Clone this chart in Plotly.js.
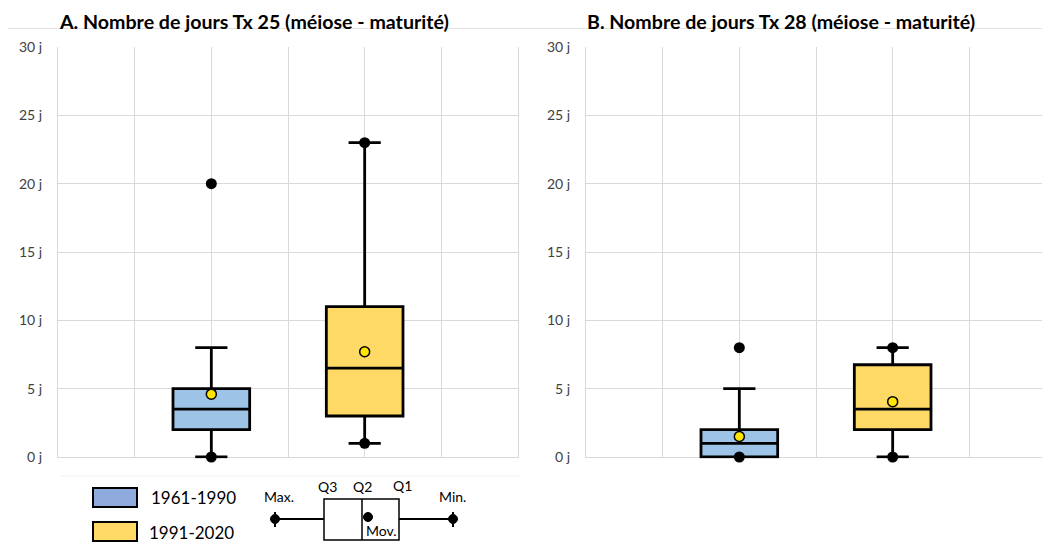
<!DOCTYPE html>
<html><head><meta charset="utf-8">
<script src="https://cdn.plot.ly/plotly-3.0.1.min.js"></script>
<style>html,body{margin:0;padding:0;background:#fff}#c{width:1042px;height:542px}</style>
</head><body><div id="c"></div>
<script>
// ---- data ----
const periods = ['1961-1990', '1991-2020'];
const fills = ['#9DC3E6', '#FFD966'];
const legendFills = ['#8FAADC', '#FFD966'];
const slots = [2, 4];
const titleA = 'A. Nombre de jours Tx 25 (méiose - maturité)';
const titleB = 'B. Nombre de jours Tx 28 (méiose - maturité)';
const yTicks = [0, 5, 10, 15, 20, 25, 30];
const yTickText = ['0 j', '5 j', '10 j', '15 j', '20 j', '25 j', '30 j'];

// Panel A (Tx 25)
const aQ1 = [2, 3];
const aMedian = [3.5, 6.5];
const aQ3 = [5, 11];
const aLowWhisker = [0, 1];
const aHighWhisker = [8, 23];
const aMean = [4.6, 7.7];
const aMax = [20, 23];
const aMin = [0, 1];

// Panel B (Tx 28)
const bQ1 = [0, 2];
const bMedian = [1, 3.5];
const bQ3 = [2, 6.75];
const bLowWhisker = [0, 0];
const bHighWhisker = [5, 8];
const bMean = [1.5, 4.05];
const bMax = [8, 8];
const bMin = [0, 0];

// ---- build ----
const W = 1042, H = 542;
const px = x => x / W, py = y => 1 - y / H;
const FONT = 'Lato, "Open Sans", sans-serif';

function panel(xa, ya, q1, med, q3, lo, hi, mean, mx, mn) {
  const tr = [];
  periods.forEach((p, i) => {
    tr.push({
      type: 'box', name: p, x: [slots[i]], q1: [q1[i]], median: [med[i]], q3: [q3[i]],
      lowerfence: [lo[i]], upperfence: [hi[i]], width: 1, whiskerwidth: 0.42,
      fillcolor: fills[i], line: {color: '#000', width: 2.8}, boxpoints: false,
      xaxis: xa, yaxis: ya, showlegend: false, hoverinfo: 'skip'
    });
  });
  tr.push({
    type: 'scatter', mode: 'markers', x: slots, y: mx, xaxis: xa, yaxis: ya,
    marker: {color: '#000', size: 11}, cliponaxis: false, showlegend: false, hoverinfo: 'skip'
  });
  tr.push({
    type: 'scatter', mode: 'markers', x: slots, y: mn, xaxis: xa, yaxis: ya,
    marker: {color: '#000', size: 11}, cliponaxis: false, showlegend: false, hoverinfo: 'skip'
  });
  tr.push({
    type: 'scatter', mode: 'markers', x: slots, y: mean, xaxis: xa, yaxis: ya,
    marker: {color: '#FFE600', size: 10, line: {color: '#000', width: 1.5}},
    cliponaxis: false, showlegend: false, hoverinfo: 'skip'
  });
  return tr;
}

const data = [].concat(
  panel('x', 'y', aQ1, aMedian, aQ3, aLowWhisker, aHighWhisker, aMean, aMax, aMin),
  panel('x2', 'y2', bQ1, bMedian, bQ3, bLowWhisker, bHighWhisker, bMean, bMax, bMin)
);

const ydom = [(H - 458.37) / H, (H - 47) / H];
const xCommon = {showticklabels: false, showgrid: true, gridcolor: '#D9D9D9', gridwidth: 1,
  zeroline: false, dtick: 1, tick0: 0, ticks: '', fixedrange: true};
const yCommon = {range: [-0.1, 30], domain: ydom, tickmode: 'array', tickvals: yTicks, ticktext: yTickText,
  showgrid: true, gridcolor: '#D9D9D9', gridwidth: 1, zeroline: false, ticks: '',
  showline: true, mirror: true, linecolor: '#D9D9D9', linewidth: 1,
  ticklabelstandoff: 12, tickfont: {family: FONT, size: 14, color: '#404040'}, fixedrange: true};

const shapes = [
  {type: 'line', xref: 'paper', yref: 'paper', x0: px(8), x1: 1, y0: py(28.5), y1: py(28.5), line: {color: '#E3E3E3', width: 1}, layer: 'below'},
  {type: 'line', xref: 'paper', yref: 'paper', x0: px(60), x1: px(520), y0: py(476), y1: py(476), line: {color: '#F0F0F0', width: 1}, layer: 'below'},
  // legend swatches
  {type: 'rect', xref: 'paper', yref: 'paper', x0: px(93), x1: px(137), y0: py(507), y1: py(488), fillcolor: legendFills[0], line: {color: '#000', width: 2}},
  {type: 'rect', xref: 'paper', yref: 'paper', x0: px(93), x1: px(137), y0: py(541), y1: py(522), fillcolor: legendFills[1], line: {color: '#000', width: 2}},
  // schematic
  {type: 'line', xref: 'paper', yref: 'paper', x0: px(275), x1: px(453), y0: py(519), y1: py(519), line: {color: '#000', width: 2}},
  {type: 'line', xref: 'paper', yref: 'paper', x0: px(275), x1: px(275), y0: py(512), y1: py(527), line: {color: '#000', width: 2}},
  {type: 'line', xref: 'paper', yref: 'paper', x0: px(453), x1: px(453), y0: py(512), y1: py(527), line: {color: '#000', width: 2}},
  {type: 'circle', xref: 'paper', yref: 'paper', x0: px(270.5), x1: px(279.5), y0: py(523.5), y1: py(514.5), fillcolor: '#000', line: {color: '#000', width: 1}},
  {type: 'circle', xref: 'paper', yref: 'paper', x0: px(448.5), x1: px(457.5), y0: py(523.5), y1: py(514.5), fillcolor: '#000', line: {color: '#000', width: 1}},
  {type: 'rect', xref: 'paper', yref: 'paper', x0: px(324), x1: px(399), y0: py(540), y1: py(499), fillcolor: '#fff', line: {color: '#000', width: 1.5}},
  {type: 'line', xref: 'paper', yref: 'paper', x0: px(362), x1: px(362), y0: py(540), y1: py(499), line: {color: '#000', width: 1.5}},
  {type: 'circle', xref: 'paper', yref: 'paper', x0: px(363.5), x1: px(372.5), y0: py(521.5), y1: py(512.5), fillcolor: '#000', line: {color: '#000', width: 1}}
];

function ann(text, x, y, size, opts) {
  return Object.assign({text: text, xref: 'paper', yref: 'paper', x: px(x), y: py(y), showarrow: false,
    xanchor: 'center', yanchor: 'middle', font: {family: FONT, size: size, color: '#000'}}, opts || {});
}

const annotations = [
  ann('<b>' + titleA + '</b>', 57, 21, 19.6, {xanchor: 'left'}),
  ann('<b>' + titleB + '</b>', 585, 21, 19.6, {xanchor: 'left'}),
  ann(periods[0], 149, 497, 17, {xanchor: 'left'}),
  ann(periods[1], 147, 532, 17, {xanchor: 'left'}),
  ann('Max.', 279, 496, 14),
  ann('Q3', 327, 486, 14),
  ann('Q2', 362, 486, 14),
  ann('Q1', 402, 485, 14),
  ann('Min.', 452, 496, 14),
  ann('Mov.', 364, 530, 14, {xanchor: 'left'})
];

const layout = {
  width: W, height: H, margin: {l: 0, r: 0, t: 0, b: 0},
  paper_bgcolor: '#fff', plot_bgcolor: '#fff', boxmode: 'overlay', showlegend: false,
  xaxis: Object.assign({}, xCommon, {domain: [px(58), px(518)], range: [0, 6], anchor: 'y'}),
  yaxis: Object.assign({}, yCommon, {anchor: 'x'}),
  xaxis2: Object.assign({}, xCommon, {domain: [px(586), 1], range: [0, (1042 - 586) / (460 / 6)], anchor: 'y2'}),
  yaxis2: Object.assign({}, yCommon, {anchor: 'x2'}),
  shapes: shapes, annotations: annotations
};

Plotly.newPlot('c', data, layout, {displayModeBar: false, staticPlot: true});
</script>
</body></html>
